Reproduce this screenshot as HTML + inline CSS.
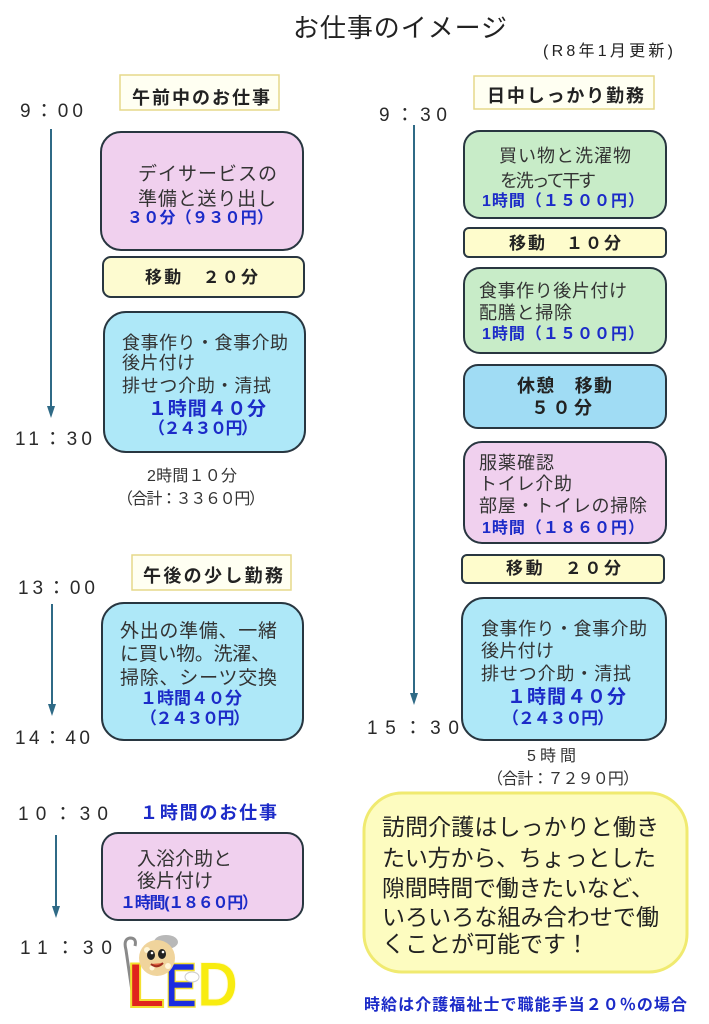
<!DOCTYPE html>
<html><head><meta charset="utf-8"><style>
html,body{margin:0;padding:0;background:#fff;}
svg{display:block;}
text{font-family:"Liberation Sans","Noto Sans CJK JP",sans-serif;fill:#333;}
.b{fill:#1c2bc8;font-weight:bold;}
.k{fill:#222;font-weight:bold;}
.tm{fill:#2a2a2a;font-size:19px;}
.bx{stroke:#283640;stroke-width:2;}
.lb{fill:#fffff2;stroke:#e6d98a;stroke-width:1.5;}
.ln{stroke:#2f6a86;stroke-width:2;}
.ah{fill:#2f6a86;}
</style></head><body>
<svg width="709" height="1024" viewBox="0 0 709 1024" xmlns="http://www.w3.org/2000/svg">
<rect width="709" height="1024" fill="#fff"/>

<!-- Title -->
<text x="293" y="37" font-size="26" textLength="214" lengthAdjust="spacing" style="fill:#222">お仕事のイメージ</text>
<text x="543" y="56" font-size="16" textLength="130" lengthAdjust="spacing" style="fill:#222">(R8年1月更新)</text>

<!-- ============ LEFT: morning ============ -->
<rect class="lb" x="120" y="75" width="159" height="35"/>
<text x="132" y="104" font-size="18" class="k" textLength="138" lengthAdjust="spacing">午前中のお仕事</text>
<text class="tm" x="20" y="117" textLength="63" lengthAdjust="spacing">9：00</text>
<line class="ln" x1="51" y1="129" x2="51" y2="408"/>
<polygon class="ah" points="47,406 55,406 51,418"/>

<rect class="bx" x="101" y="132" width="202" height="118" rx="20" fill="#f0d0ee"/>
<text x="138" y="180" font-size="19" textLength="139" lengthAdjust="spacing">デイサービスの</text>
<text x="138" y="205" font-size="19" textLength="138" lengthAdjust="spacing">準備と送り出し</text>
<text x="127" y="223" font-size="16" class="b" textLength="146" lengthAdjust="spacing">３０分（９３０円）</text>

<rect class="bx" x="103" y="257" width="201" height="40" rx="8" fill="#fdfbd0"/>
<text x="145" y="283" font-size="17" class="k" textLength="113" lengthAdjust="spacing">移動　２０分</text>

<rect class="bx" x="104" y="312" width="201" height="140" rx="22" fill="#aee8f8"/>
<text x="122" y="349" font-size="18" textLength="166" lengthAdjust="spacing">食事作り・食事介助</text>
<text x="122" y="369" font-size="18" textLength="73" lengthAdjust="spacing">後片付け</text>
<text x="122" y="392" font-size="18" textLength="149" lengthAdjust="spacing">排せつ介助・清拭</text>
<text x="148" y="415" font-size="19" class="b" textLength="118" lengthAdjust="spacing">１時間４０分</text>
<text x="148" y="434" font-size="17" class="b" textLength="110" lengthAdjust="spacing">（２４３０円）</text>
<text class="tm" x="15" y="445" textLength="77" lengthAdjust="spacing">11：30</text>

<text x="147" y="481" font-size="16" textLength="90" lengthAdjust="spacing">2時間１０分</text>
<text x="117" y="504" font-size="16" textLength="148" lengthAdjust="spacing">（合計：３３６０円）</text>

<!-- ============ LEFT: afternoon ============ -->
<rect class="lb" x="132" y="555" width="159" height="35"/>
<text x="143" y="582" font-size="18" class="k" textLength="140" lengthAdjust="spacing">午後の少し勤務</text>
<text class="tm" x="18" y="594" textLength="77" lengthAdjust="spacing">13：00</text>
<line class="ln" x1="52" y1="604" x2="52" y2="706"/>
<polygon class="ah" points="48,704 56,704 52,716"/>

<rect class="bx" x="102" y="603" width="201" height="137" rx="22" fill="#aee8f8"/>
<text x="120" y="637" font-size="19" textLength="157" lengthAdjust="spacing">外出の準備、一緒</text>
<text x="120" y="660" font-size="19" textLength="150" lengthAdjust="spacing">に買い物。洗濯、</text>
<text x="120" y="684" font-size="19" textLength="157" lengthAdjust="spacing">掃除、シーツ交換</text>
<text x="140" y="704" font-size="17" class="b" textLength="102" lengthAdjust="spacing">１時間４０分</text>
<text x="140" y="724" font-size="17" class="b" textLength="110" lengthAdjust="spacing">（２４３０円）</text>
<text class="tm" x="15" y="744" textLength="75" lengthAdjust="spacing">14：40</text>

<!-- ============ LEFT: 1 hour ============ -->
<text class="tm" x="18" y="820" textLength="90" lengthAdjust="spacing">10：30</text>
<text x="140" y="819" font-size="18" class="b" textLength="137" lengthAdjust="spacing">１時間のお仕事</text>
<line class="ln" x1="56" y1="835" x2="56" y2="908"/>
<polygon class="ah" points="52,906 60,906 56,918"/>

<rect class="bx" x="102" y="833" width="201" height="87" rx="16" fill="#f0d0ee"/>
<text x="137" y="865" font-size="19" textLength="95" lengthAdjust="spacing">入浴介助と</text>
<text x="137" y="887" font-size="19" textLength="76" lengthAdjust="spacing">後片付け</text>
<text x="120" y="908" font-size="16" class="b" textLength="138" lengthAdjust="spacing">１時間(１８６０円）</text>
<text class="tm" x="20" y="954" textLength="92" lengthAdjust="spacing">11：30</text>

<!-- Mascot -->
<g>
  <path d="M133 998 L126 950 Q123 939 130 938 Q137 938 135 946" stroke="#8a8a8a" stroke-width="3" fill="none"/>
  <text x="127" y="1007" font-size="63" font-weight="bold" style="fill:#e0241c;stroke:#f3e030;stroke-width:2" textLength="38" lengthAdjust="spacingAndGlyphs">L</text>
  <text x="165" y="1007" font-size="63" font-weight="bold" style="fill:#1a2ce0;stroke:#f3e030;stroke-width:1.5" textLength="32" lengthAdjust="spacingAndGlyphs">E</text>
  <text x="197" y="1006" font-size="63" font-weight="bold" style="fill:#f8ec10;stroke:#fffbe0;stroke-width:1" textLength="41" lengthAdjust="spacingAndGlyphs">D</text>
  <ellipse cx="166" cy="942" rx="12" ry="7" fill="#b8b8b8"/>
  <circle cx="157" cy="958" r="18" fill="#f0d49c"/>
  <circle cx="147" cy="950" r="3" fill="#fff6d8"/>
  <circle cx="168" cy="966" r="3" fill="#fff6d8"/>
  <circle cx="152" cy="968" r="2.5" fill="#fff6d8"/>
  <ellipse cx="151" cy="955" rx="4" ry="5" fill="#222"/>
  <ellipse cx="162" cy="954" rx="4" ry="5" fill="#222"/>
  <circle cx="152" cy="953" r="1.3" fill="#fff"/>
  <circle cx="163" cy="952" r="1.3" fill="#fff"/>
  <path d="M151 964 Q157 969 163 963" stroke="#a03020" stroke-width="2" fill="#e06040"/>
  <ellipse cx="192" cy="977" rx="7" ry="5" fill="#fff" stroke="#ccc" stroke-width="1"/>
</g>

<!-- ============ RIGHT column ============ -->
<rect class="lb" x="474" y="76" width="180" height="33"/>
<text x="487" y="102" font-size="18" class="k" textLength="157" lengthAdjust="spacing">日中しっかり勤務</text>
<text class="tm" x="379" y="121" textLength="68" lengthAdjust="spacing">9：30</text>
<line class="ln" x1="414" y1="125" x2="414" y2="695"/>
<polygon class="ah" points="410,693 418,693 414,705"/>

<rect class="bx" x="464" y="131" width="202" height="87" rx="16" fill="#c8ecc8"/>
<text x="499" y="162" font-size="18" textLength="132" lengthAdjust="spacing">買い物と洗濯物</text>
<text x="500" y="187" font-size="18" textLength="96" lengthAdjust="spacing">を洗って干す</text>
<text x="482" y="206" font-size="16" class="b" textLength="162" lengthAdjust="spacing">1時間（１５００円）</text>

<rect class="bx" x="464" y="228" width="202" height="29" rx="5" fill="#fefccc"/>
<text x="509" y="249" font-size="17" class="k" textLength="112" lengthAdjust="spacing">移動　１０分</text>

<rect class="bx" x="464" y="268" width="202" height="85" rx="16" fill="#c8ecc8"/>
<text x="479" y="297" font-size="18" textLength="148" lengthAdjust="spacing">食事作り後片付け</text>
<text x="479" y="319" font-size="18" textLength="93" lengthAdjust="spacing">配膳と掃除</text>
<text x="482" y="339" font-size="16" class="b" textLength="162" lengthAdjust="spacing">1時間（１５００円）</text>

<rect class="bx" x="464" y="365" width="202" height="63" rx="14" fill="#a0dcf4"/>
<text x="517" y="392" font-size="18" class="k" textLength="95" lengthAdjust="spacing">休憩　移動</text>
<text x="531" y="414" font-size="18" class="k" textLength="61" lengthAdjust="spacing">５０分</text>

<rect class="bx" x="464" y="442" width="202" height="101" rx="18" fill="#f0d0ee"/>
<text x="479" y="469" font-size="18" textLength="75" lengthAdjust="spacing">服薬確認</text>
<text x="479" y="490" font-size="18" textLength="93" lengthAdjust="spacing">トイレ介助</text>
<text x="479" y="512" font-size="18" textLength="168" lengthAdjust="spacing">部屋・トイレの掃除</text>
<text x="482" y="533" font-size="16" class="b" textLength="162" lengthAdjust="spacing">1時間（１８６０円）</text>

<rect class="bx" x="462" y="555" width="202" height="28" rx="5" fill="#fefccc"/>
<text x="506" y="574" font-size="17" class="k" textLength="115" lengthAdjust="spacing">移動　２０分</text>

<rect class="bx" x="462" y="598" width="204" height="142" rx="22" fill="#aee8f8"/>
<text x="481" y="635" font-size="18" textLength="166" lengthAdjust="spacing">食事作り・食事介助</text>
<text x="481" y="657" font-size="18" textLength="73" lengthAdjust="spacing">後片付け</text>
<text x="481" y="680" font-size="18" textLength="150" lengthAdjust="spacing">排せつ介助・清拭</text>
<text x="507" y="703" font-size="19" class="b" textLength="119" lengthAdjust="spacing">１時間４０分</text>
<text x="502" y="724" font-size="17" class="b" textLength="112" lengthAdjust="spacing">（２４３０円）</text>
<text class="tm" x="367" y="734" textLength="92" lengthAdjust="spacing">15：30</text>

<text x="527" y="761" font-size="16" textLength="49" lengthAdjust="spacing">5時間</text>
<text x="487" y="784" font-size="16" textLength="152" lengthAdjust="spacing">（合計：７２９０円）</text>

<!-- Note box -->
<rect x="364" y="793" width="323" height="179" rx="38" fill="#fdfcc0" stroke="#f0ea70" stroke-width="3"/>
<text x="382" y="835" font-size="23" textLength="277" lengthAdjust="spacing" style="fill:#222">訪問介護はしっかりと働き</text>
<text x="382" y="866" font-size="23" textLength="274" lengthAdjust="spacing" style="fill:#222">たい方から、ちょっとした</text>
<text x="382" y="896" font-size="23" textLength="272" lengthAdjust="spacing" style="fill:#222">隙間時間で働きたいなど、</text>
<text x="382" y="925" font-size="23" textLength="277" lengthAdjust="spacing" style="fill:#222">いろいろな組み合わせで働</text>
<text x="382" y="952" font-size="23" style="fill:#222">くことが可能です！</text>

<text x="364" y="1010" font-size="16" class="b" textLength="323" lengthAdjust="spacing">時給は介護福祉士で職能手当２０％の場合</text>
</svg>
</body></html>
